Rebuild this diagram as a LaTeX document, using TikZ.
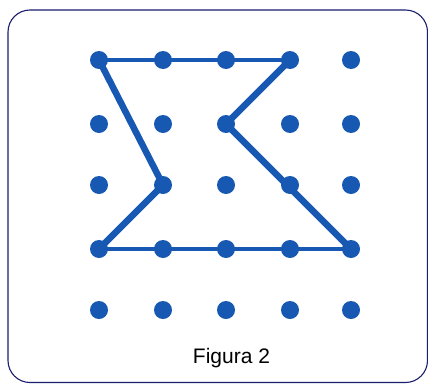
\documentclass[tikz,border=0pt]{standalone}
\usepackage{fontspec}
\setmainfont{Liberation Sans}
\definecolor{dotblue}{RGB}{22,88,178}
\definecolor{framenavy}{RGB}{25,30,110}
\begin{document}
\begin{tikzpicture}[x=1pt,y=-1pt,
  dot/.style={circle,fill=dotblue,inner sep=0pt,minimum size=18pt},
  thinedge/.style={draw=dotblue,line width=4pt,line cap=round},
  thickedge/.style={draw=dotblue,line width=6.5pt,line cap=round,line join=round},
  frame/.style={draw=framenavy,line width=1.1pt,rounded corners=22pt}]
\useasboundingbox (0,0) rectangle (428,383);
\fill[white] (0,0) rectangle (428,383);
\draw[frame] (8,10) rectangle (427.5,382.5);
% grid
\foreach \i/\x in {0/99,1/163,2/226,3/290,4/351}{
  \foreach \j/\y in {0/60,1/124,2/185,3/249,4/310}{
    \coordinate (c\i\j) at (\x,\y);
  }
}
% polygon
\draw[thinedge] (c00) -- (c30);
\draw[thinedge] (c03) -- (c43);
\draw[thickedge] (c30) -- (c21) -- (c43);
\draw[thickedge] (c03) -- (c12) -- (c00);
\foreach \i in {0,...,4}{
  \foreach \j in {0,...,4}{
    \node[dot] (d\i\j) at (c\i\j) {};
  }
}
\node[font=\fontsize{21}{24}\selectfont,anchor=base] (cap) at (231.5,363) {Figura 2};
\end{tikzpicture}
\end{document}
